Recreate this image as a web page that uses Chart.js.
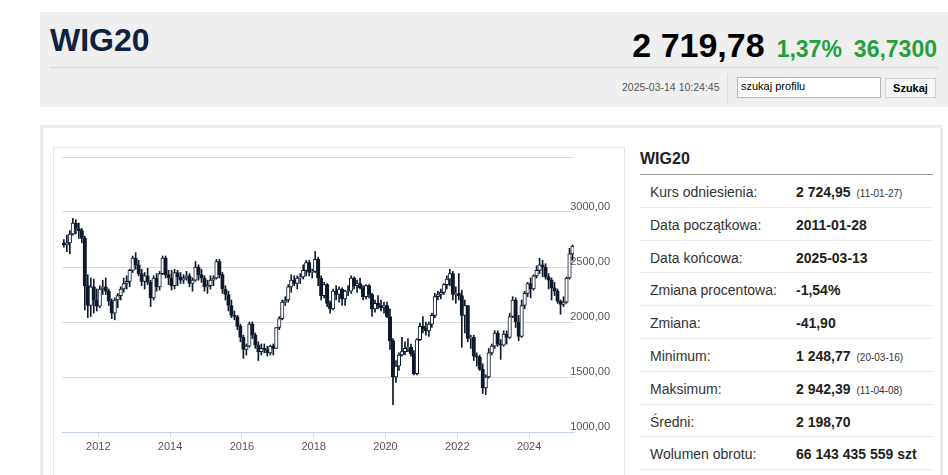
<!DOCTYPE html>
<html>
<head>
<meta charset="utf-8">
<script src="https://cdn.jsdelivr.net/npm/chart.js@4.4.1/dist/chart.umd.min.js"></script>
<style>
  body { margin: 0; background: #fff; font-family: Arial, "Liberation Sans", sans-serif; width: 948px; height: 475px; overflow: hidden; position: relative; }
  .abs { position: absolute; }
  #head { left: 40px; top: 12px; width: 908px; height: 95px; background: #efefef; }
  #title { left: 10px; top: 12px; font-size: 32px; font-weight: bold; color: #0d2240; line-height: 32px; }
  #quote { right: 11px; top: 15px; line-height: 36px; white-space: nowrap; }
  #quote .last { font-size: 34px; font-weight: bold; color: #000; }
  #quote .chg { font-size: 23px; font-weight: bold; color: #22a03c; margin-left: 12px; }
  #sep { left: 10px; right: 10px; top: 55px; height: 1px; background: #d6d6d6; }
  #stamp { left: 582px; top: 69px; font-size: 10.5px; color: #555; }
  #vbar { left: 687px; top: 62px; width: 1px; height: 30px; background: #dcdcdc; }
  #search { left: 697px; top: 65px; background: #fff; border: 1px solid #b8b8b8; font-size: 11px; line-height: 17px; padding-left: 3px; box-sizing: border-box; width: 144px; height: 21px; }
  #btn { left: 845px; top: 66px; width: 51px; height: 20px; background: #f5f5f5; border: 1px solid #cfcfcf; box-sizing: border-box; font-size: 11px; font-weight: bold; text-align: center; line-height: 18px; }
  #panel { left: 40px; top: 125px; width: 903px; height: 380px; border: 3px solid #ececec; box-sizing: border-box; }
  #frame { left: 53px; top: 147px; width: 572px; height: 340px; border: 1px solid #e8e8e8; box-sizing: border-box; }
  #chartbox { left: 53px; top: 148px; width: 572px; height: 320px; }
  #info { left: 640px; top: 147px; width: 293px; }
  #info h3 { margin: 0; font-size: 16px; line-height: 24px; height: 27px; color: #222; border-bottom: 1px solid #9a9a9a; }
  #info .row { height: 31.8px; border-bottom: 1px solid #ececec; position: relative; font-size: 14px; }
  #info .lab { position: absolute; left: 10px; top: 9px; color: #333; }
  #info .val { position: absolute; left: 156px; top: 9px; color: #222; font-weight: bold; }
  #info .val small { font-size: 10px; font-weight: normal; margin-left: 6px; color: #333; }
</style>
</head>
<body>
<div id="head" class="abs">
  <div id="title" class="abs">WIG20</div>
  <div id="quote" class="abs"><span class="last">2 719,78</span><span class="chg">1,37%</span><span class="chg">36,7300</span></div>
  <div id="sep" class="abs"></div>
  <div id="stamp" class="abs">2025-03-14 10:24:45</div>
  <div id="vbar" class="abs"></div>
  <div id="search" class="abs">szukaj profilu</div>
  <div id="btn" class="abs">Szukaj</div>
</div>
<div id="panel" class="abs"></div>
<div id="frame" class="abs"></div>
<div id="chartbox" class="abs"><canvas id="wig" width="572" height="320"></canvas></div>
<div id="info" class="abs">
  <h3>WIG20</h3>
  <div class="row"><span class="lab">Kurs odniesienia:</span><span class="val">2 724,95<small>(11-01-27)</small></span></div>
  <div class="row"><span class="lab">Data początkowa:</span><span class="val">2011-01-28</span></div>
  <div class="row"><span class="lab">Data końcowa:</span><span class="val">2025-03-13</span></div>
  <div class="row"><span class="lab">Zmiana procentowa:</span><span class="val">-1,54%</span></div>
  <div class="row"><span class="lab">Zmiana:</span><span class="val">-41,90</span></div>
  <div class="row"><span class="lab">Minimum:</span><span class="val">1 248,77<small>(20-03-16)</small></span></div>
  <div class="row"><span class="lab">Maksimum:</span><span class="val">2 942,39<small>(11-04-08)</small></span></div>
  <div class="row"><span class="lab">Średni:</span><span class="val">2 198,70</span></div>
  <div class="row"><span class="lab">Wolumen obrotu:</span><span class="val">66 143 435 559 szt</span></div>
</div>
<script>
// monthly candles, first one is January 2011
const firstMonth = "2011-01";

const open = [
  2720, 2700, 2720, 2800, 2900, 2850, 2830, 2760, 2330, 2150, 2320, 2200, // 2011
  2144, 2300, 2320, 2280, 2190, 2080, 2200, 2240, 2300, 2350, 2370, 2470, // 2012
  2580, 2520, 2440, 2370, 2420, 2360, 2220, 2400, 2320, 2440, 2580, 2430, // 2013
  2400, 2330, 2450, 2410, 2380, 2400, 2420, 2350, 2380, 2500, 2430, 2400, // 2014
  2320, 2330, 2380, 2400, 2550, 2430, 2300, 2250, 2150, 2060, 2050, 1960, // 2015
  1860, 1750, 1780, 1980, 1880, 1790, 1730, 1760, 1750, 1720, 1780, 1760, // 2016
  1950, 2030, 2180, 2200, 2320, 2380, 2350, 2400, 2410, 2470, 2540, 2450, // 2017
  2460, 2570, 2400, 2240, 2340, 2170, 2120, 2280, 2250, 2300, 2210, 2280, // 2018
  2280, 2400, 2330, 2350, 2310, 2230, 2330, 2250, 2120, 2170, 2150, 2130, // 2019
  2150, 2050, 1830, 1500, 1600, 1700, 1730, 1760, 1770, 1710, 1530, 1840, // 2020
  1960, 1940, 1920, 1980, 2060, 2230, 2250, 2270, 2340, 2390, 2440, 2250, // 2021
  2260, 2240, 2060, 2150, 1850, 1860, 1690, 1680, 1570, 1400, 1500, 1720, // 2022
  1780, 1900, 1800, 1790, 1890, 1860, 2050, 2200, 2000, 1870, 2150, 2260, // 2023
  2350, 2300, 2420, 2470, 2520, 2500, 2410, 2380, 2310, 2280, 2190, 2160, // 2024
  2180, 2400, 2620                                                      // 2025
];
const high = [
  2750, 2790, 2830, 2942, 2930, 2900, 2850, 2780, 2430, 2400, 2390, 2300,
  2330, 2380, 2400, 2300, 2210, 2220, 2260, 2320, 2400, 2420, 2480, 2600,
  2630, 2560, 2480, 2450, 2490, 2380, 2420, 2440, 2460, 2600, 2600, 2470,
  2470, 2480, 2470, 2450, 2430, 2460, 2440, 2400, 2550, 2520, 2480, 2420,
  2380, 2420, 2420, 2570, 2570, 2450, 2330, 2280, 2200, 2100, 2060, 1980,
  1880, 1800, 2000, 2000, 1900, 1820, 1800, 1800, 1780, 1790, 1800, 1950,
  2050, 2200, 2230, 2340, 2430, 2420, 2420, 2440, 2520, 2560, 2560, 2480,
  2640, 2590, 2420, 2360, 2350, 2190, 2300, 2330, 2320, 2310, 2290, 2330,
  2420, 2410, 2380, 2400, 2330, 2340, 2340, 2260, 2200, 2240, 2200, 2180,
  2180, 2120, 1850, 1650, 1720, 1860, 1820, 1850, 1800, 1740, 1850, 1990,
  2050, 2000, 2000, 2080, 2260, 2280, 2300, 2350, 2420, 2480, 2460, 2320,
  2440, 2290, 2200, 2150, 1880, 1880, 1720, 1700, 1620, 1520, 1760, 1800,
  1920, 1920, 1840, 1920, 1920, 2080, 2230, 2220, 2060, 2200, 2280, 2360,
  2400, 2430, 2510, 2580, 2560, 2530, 2440, 2400, 2360, 2300, 2200, 2230,
  2410, 2670, 2700
];
const low = [
  2680, 2640, 2620, 2790, 2800, 2760, 2720, 2110, 2040, 2050, 2080, 2100,
  2130, 2250, 2250, 2150, 2030, 2020, 2130, 2200, 2270, 2300, 2320, 2450,
  2480, 2420, 2330, 2300, 2340, 2140, 2200, 2280, 2290, 2430, 2400, 2340,
  2290, 2300, 2330, 2350, 2350, 2380, 2320, 2280, 2370, 2380, 2360, 2280,
  2260, 2300, 2330, 2390, 2400, 2260, 2200, 2100, 2040, 2020, 1930, 1820,
  1670, 1700, 1770, 1850, 1760, 1650, 1700, 1720, 1690, 1700, 1700, 1760,
  1930, 2020, 2150, 2180, 2270, 2330, 2300, 2350, 2390, 2420, 2420, 2400,
  2450, 2330, 2200, 2220, 2140, 2080, 2110, 2200, 2180, 2150, 2150, 2240,
  2260, 2300, 2270, 2300, 2200, 2210, 2220, 2050, 2090, 2120, 2100, 2080,
  2040, 1750, 1249, 1450, 1560, 1690, 1700, 1730, 1690, 1520, 1520, 1830,
  1900, 1880, 1870, 1950, 2040, 2200, 2210, 2250, 2300, 2330, 2200, 2170,
  2200, 1770, 1900, 1820, 1760, 1650, 1600, 1560, 1350, 1340, 1490, 1700,
  1760, 1780, 1660, 1780, 1800, 1850, 2040, 1950, 1830, 1860, 2120, 2230,
  2220, 2290, 2400, 2440, 2410, 2390, 2300, 2200, 2240, 2170, 2070, 2140,
  2170, 2390, 2560
];
const close = [
  2700, 2720, 2800, 2900, 2850, 2830, 2760, 2330, 2150, 2320, 2200, 2144,
  2300, 2320, 2280, 2190, 2080, 2200, 2240, 2300, 2350, 2370, 2470, 2580,
  2520, 2440, 2370, 2420, 2360, 2220, 2400, 2320, 2440, 2580, 2430, 2400,
  2330, 2450, 2410, 2380, 2400, 2420, 2350, 2380, 2500, 2430, 2400, 2320,
  2330, 2380, 2400, 2550, 2430, 2300, 2250, 2150, 2060, 2050, 1960, 1860,
  1750, 1780, 1980, 1880, 1790, 1730, 1760, 1750, 1720, 1780, 1760, 1950,
  2030, 2180, 2200, 2320, 2380, 2350, 2400, 2410, 2470, 2540, 2450, 2460,
  2570, 2400, 2240, 2340, 2170, 2120, 2280, 2250, 2300, 2210, 2280, 2280,
  2400, 2330, 2350, 2310, 2230, 2330, 2250, 2120, 2170, 2150, 2130, 2150,
  2050, 1830, 1500, 1600, 1700, 1730, 1760, 1770, 1710, 1530, 1840, 1960,
  1940, 1920, 1980, 2060, 2230, 2250, 2270, 2340, 2390, 2440, 2250, 2260,
  2240, 2060, 2150, 1850, 1860, 1690, 1680, 1570, 1400, 1500, 1720, 1780,
  1900, 1800, 1790, 1890, 1860, 2050, 2200, 2000, 1870, 2150, 2260, 2350,
  2300, 2420, 2470, 2520, 2500, 2410, 2380, 2310, 2280, 2190, 2160, 2180,
  2400, 2620, 2690
];

const yTicks = [1000, 1500, 2000, 2500, 3000, 3500];
const xStart = 2010.99; // 2011-01-01
const xEnd = 2025.25;

// month index -> decimal year (middle of the month)
function monthPos(i) {
  const parts = firstMonth.split("-");
  const m = parseInt(parts[1]) - 1 + i;
  return parseInt(parts[0]) + (m + 0.5) / 12;
}

const bodies = [];
const wicks = [];
const bodyColors = [];
for (let i = 0; i < close.length; i++) {
  const x = monthPos(i);
  bodies.push({ x: x, y: [open[i], close[i]] });
  wicks.push({ x: x, y: [low[i], high[i]] });
  bodyColors.push(close[i] >= open[i] ? "#ffffff" : "#0e1a2c");
}

const ctx = document.getElementById("wig").getContext("2d");
const chart = new Chart(ctx, {
  type: "bar",
  data: {
    datasets: [{
      data: bodies,
      backgroundColor: bodyColors,
      borderColor: "#0e1a2c",
      borderWidth: 1,
      borderSkipped: false,
      barThickness: 3.5,
      grouped: false
    }, {
      data: wicks,
      backgroundColor: "#0e1a2c",
      barThickness: 1,
      grouped: false
    }]
  },
  options: {
    responsive: false,
    animation: false,
    layout: { padding: { left: 9, top: 9, right: 0, bottom: 0 } },
    plugins: { legend: { display: false }, tooltip: { enabled: false } },
    scales: {
      x: {
        type: "linear",
        min: xStart,
        max: xEnd,
        offset: false,
        afterFit: function (s) { s.height = 36; },
        ticks: {
          stepSize: 2,
          includeBounds: false,
          color: "#555",
          font: { family: "Arial, 'Liberation Sans'", size: 11 },
          padding: 3,
          maxRotation: 0,
          callback: function (v) { return String(v); }
        },
        grid: { offset: false, drawOnChartArea: false, color: "#c6d6e6", tickLength: 5 },
        border: { color: "#c6d6e6" }
      },
      y: {
        position: "right",
        min: yTicks[0],
        max: yTicks[yTicks.length - 1],
        afterFit: function (s) {
          s.width = 51;
          s.paddingTop = 0;
          s.paddingBottom = 0;
        },
        afterBuildTicks: function (s) { s.ticks = yTicks.map(v => ({ value: v })); },
        ticks: {
          mirror: true,
          color: "#555",
          font: { family: "Arial, 'Liberation Sans'", size: 11 },
          padding: 36,
          labelOffset: -5,
          callback: function (v) { return v === 3500 ? "" : v.toFixed(2).replace(".", ","); }
        },
        grid: { color: "#dcdcdc", drawTicks: false },
        border: { display: false }
      }
    }
  }
});
</script>
</body>
</html>
